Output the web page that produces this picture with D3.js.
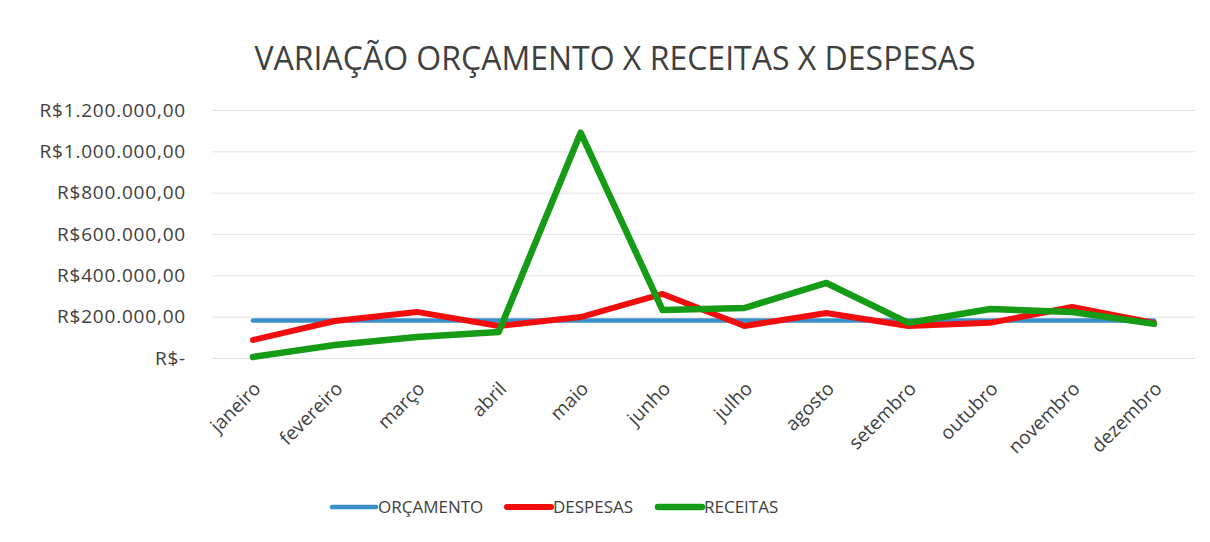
<!DOCTYPE html>
<html lang="pt">
<head>
  <meta charset="utf-8">
  <title>Variação orçamento x receitas x despesas</title>
  <script src="https://d3js.org/d3.v7.min.js"></script>
  <style>
  body { margin: 0; background: #fff; }
  svg, svg text { font-family: "Open Sans", sans-serif; }
  </style>
</head>
<body>
  <script>
  var meses = ["janeiro", "fevereiro", "março", "abril", "maio", "junho",
    "julho", "agosto", "setembro", "outubro", "novembro", "dezembro"];
  var orcamento = [182000, 182000, 182000, 182000, 182000, 182000,
    182000, 182000, 182000, 182000, 182000, 182000];
  var despesas = [87000, 179000, 223000, 155000, 198000, 310000,
    155000, 218000, 155000, 170000, 247000, 170000];
  var receitas = [5000, 63000, 102000, 126000, 1090000, 232000,
    242000, 363000, 170000, 237000, 223000, 165000];
  var yTicks = [0, 200000, 400000, 600000, 800000, 1000000, 1200000];

  var width = 1210, height = 542;
  var margin = {top: 110, right: 15, bottom: 184, left: 212};

  var svg = d3.select("body").append("svg")
    .attr("width", width)
    .attr("height", height);

  var x = d3.scaleBand()
    .domain(meses)
    .range([margin.left, width - margin.right]);

  var y = d3.scaleLinear()
    .domain([0, 1200000])
    .range([height - margin.bottom, margin.top]);

  function moeda(v) {
    if (v === 0) return "R$-";
    return "R$" + d3.format(",")(v).replace(/,/g, ".") + ",00";
  }

  svg.append("text")
    .attr("x", 615)
    .attr("y", 70)
    .attr("text-anchor", "middle")
    .attr("fill", "#404040")
    .style("font-size", "32px")
    .text("VARIAÇÃO ORÇAMENTO X RECEITAS X DESPESAS");

  // grade e eixo y
  var yAxis = svg.append("g")
    .attr("transform", "translate(" + margin.left + ",0)")
    .call(d3.axisLeft(y).tickValues(yTicks).tickSize(-(width - margin.left - margin.right)).tickFormat(moeda).tickPadding(26));
  yAxis.attr("font-family", null);
  yAxis.select(".domain").remove();
  yAxis.selectAll("line").attr("stroke", "#e3e3e3");
  yAxis.selectAll("text")
    .attr("fill", "#404040")
    .style("font-size", "19px")
    .style("letter-spacing", "0.8px");

  // eixo x
  var xAxis = svg.append("g")
    .attr("transform", "translate(0," + (height - margin.bottom) + ")")
    .call(d3.axisBottom(x).tickSize(0));
  xAxis.attr("font-family", null);
  xAxis.select(".domain").remove();
  xAxis.selectAll("text")
    .attr("fill", "#404040")
    .style("font-size", "19px")
    .attr("text-anchor", "end")
    .attr("y", 0)
    .attr("dy", 0)
    .attr("transform", "translate(9,32) rotate(-45)");

  var series = [
    {nome: "ORÇAMENTO", valores: orcamento, cor: "#3b8fc9", w: 4.5},
    {nome: "DESPESAS", valores: despesas, cor: "#f20d0d", w: 6},
    {nome: "RECEITAS", valores: receitas, cor: "#169b16", w: 6.5}
  ];

  var line = d3.line()
    .x(function(d, i) { return x(meses[i]) + x.bandwidth() / 2; })
    .y(function(d) { return y(d); });

  svg.selectAll(".serie")
    .data(series)
    .enter().append("path")
    .attr("class", "serie")
    .attr("d", function(d) { return line(d.valores); })
    .attr("fill", "none")
    .attr("stroke", function(d) { return d.cor; })
    .attr("stroke-width", function(d) { return d.w; })
    .attr("stroke-linejoin", "round")
    .attr("stroke-linecap", "round");

  // legenda
  var legX = [332, 507, 658];
  var leg = svg.selectAll(".leg")
    .data(series)
    .enter().append("g")
    .attr("transform", function(d, i) { return "translate(" + legX[i] + ",507)"; });
  leg.append("line")
    .attr("x1", 0).attr("x2", 44)
    .attr("stroke", function(d) { return d.cor; })
    .attr("stroke-width", function(d) { return d.w; })
    .attr("stroke-linecap", "round");
  leg.append("text")
    .attr("x", 46)
    .attr("dy", "0.35em")
    .attr("fill", "#404040")
    .style("font-size", "17px")
    .text(function(d) { return d.nome; });
  </script>
</body>
</html>
